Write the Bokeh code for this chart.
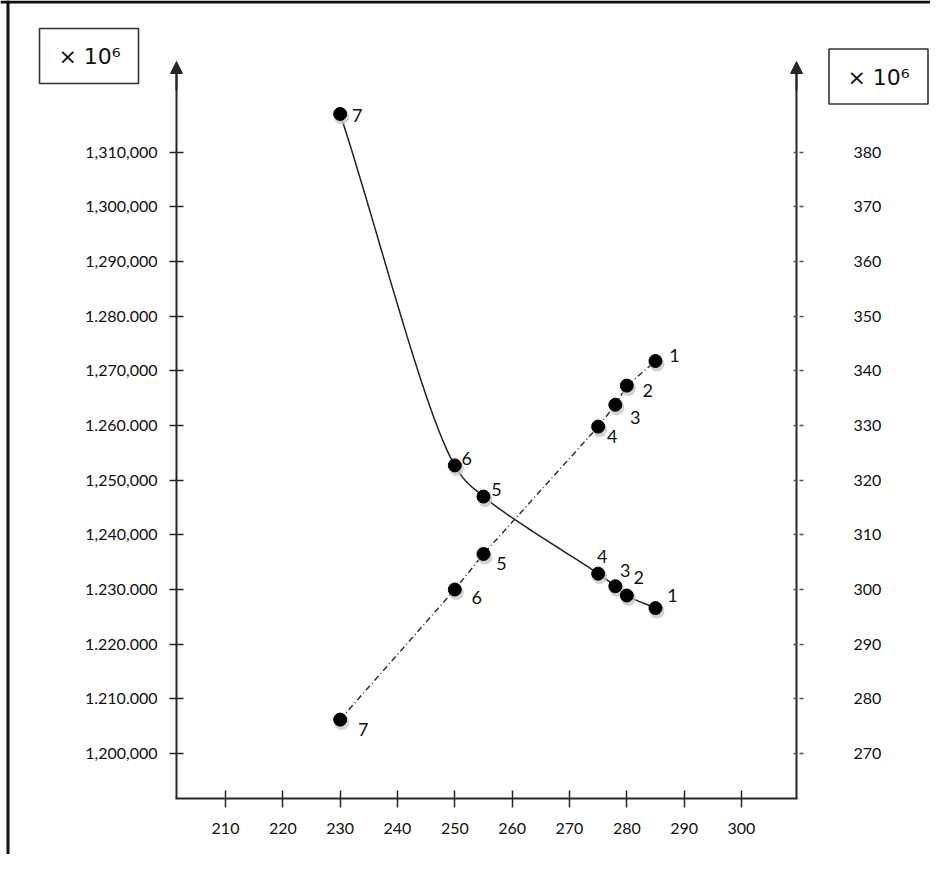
import numpy as np
from bokeh.plotting import figure
from bokeh.models import (Range1d, LinearAxis, FixedTicker, Arrow, NormalHead,
                          Span, ColumnDataSource)
from bokeh.core.properties import value
from bokeh.embed import file_html
from bokeh.resources import INLINE

# ---------------- data ----------------
point_ids = ["1", "2", "3", "4", "5", "6", "7"]
x_values = [285, 280, 278, 275, 255, 250, 230]
left_series = [1226600, 1228900, 1230600, 1232900, 1247000, 1252700, 1317000]
right_series = [341.8, 337.3, 333.8, 329.8, 306.5, 300.0, 276.2]

x_ticks = [210, 220, 230, 240, 250, 260, 270, 280, 290, 300]
left_ticks = [1200000, 1210000, 1220000, 1230000, 1240000, 1250000,
              1260000, 1270000, 1280000, 1290000, 1300000, 1310000]
left_tick_labels = ["1,200,000", "1.210.000", "1.220.000", "1.230.000",
                    "1,240,000", "1,250,000", "1.260.000", "1,270,000",
                    "1.280.000", "1,290,000", "1,300,000", "1,310,000"]
right_ticks = [270, 280, 290, 300, 310, 320, 330, 340, 350, 360, 370, 380]
right_tick_labels = [str(t) for t in right_ticks]
scale_label = "× 10⁶"

# label offsets (screen px) for point numbers
solid_dx = [17, 12, 10, 4, 13, 12, 17]
solid_dy = [-13, -18, -16, -17, -7, -7, 2]
dash_dx = [19, 21, 20, 14, 18, 22, 23]
dash_dy = [-6, 5, 13, 10, 10, 8, 10]

# ---------------- geometry ----------------
W, H = 930, 854
KX = 5.733        # px per x unit
KY = 0.005466     # px per left-axis unit


def x_at(px):  # canvas px -> data x
    return 210 + (px - 225) / KX


def y_at(py):  # canvas px -> left data y
    return 1255000 + (452.35 - py) / KY


def r_at(py):
    return (y_at(py) - 930000) / 1000.0


X0, X1 = x_at(0), x_at(W)
Y0, Y1 = y_at(H), y_at(0)
R0, R1 = r_at(H), r_at(0)


def catmull_rom(xs, ys, kx, ky, n=40, alpha=0.5):
    P = np.column_stack([np.asarray(xs, float) * kx, np.asarray(ys, float) * ky])
    P = np.vstack([2 * P[0] - P[1], P, 2 * P[-1] - P[-2]])
    out = []
    for i in range(1, len(P) - 2):
        p0, p1, p2, p3 = P[i - 1], P[i], P[i + 1], P[i + 2]
        t0 = 0.0
        t1 = t0 + np.linalg.norm(p1 - p0) ** alpha
        t2 = t1 + np.linalg.norm(p2 - p1) ** alpha
        t3 = t2 + np.linalg.norm(p3 - p2) ** alpha
        t = np.linspace(t1, t2, n)[:, None]
        a1 = (t1 - t) / (t1 - t0) * p0 + (t - t0) / (t1 - t0) * p1
        a2 = (t2 - t) / (t2 - t1) * p1 + (t - t1) / (t2 - t1) * p2
        a3 = (t3 - t) / (t3 - t2) * p2 + (t - t2) / (t3 - t2) * p3
        b1 = (t2 - t) / (t2 - t0) * a1 + (t - t0) / (t2 - t0) * a2
        b2 = (t3 - t) / (t3 - t1) * a2 + (t - t1) / (t3 - t1) * a3
        c = (t2 - t) / (t2 - t1) * b1 + (t - t1) / (t2 - t1) * b2
        out.append(c if i == len(P) - 3 else c[:-1])
    C = np.vstack(out)
    return C[:, 0] / kx, C[:, 1] / ky


p = figure(width=W, height=H, x_range=Range1d(X0, X1), y_range=Range1d(Y0, Y1),
           x_axis_type=None, y_axis_type=None, toolbar_location=None,
           output_backend="svg", min_border=0, outline_line_color=None,
           background_fill_color="white", border_fill_color="white")
p.extra_y_ranges = {"right": Range1d(R0, R1)}

INK = "#262626"
TXT = "#111111"
FONT = "Lato"

# outer border (top & left edges)
p.add_layout(Span(location=y_at(1.5), dimension="width", line_color="#111", line_width=3))
p.add_layout(Span(location=x_at(7.5), dimension="height", line_color="#111", line_width=3))

# axes
xl, xr, yb = x_at(176), x_at(796), y_at(798)

left_axis = LinearAxis(fixed_location=xl, bounds=(yb, y_at(68)),
                       ticker=FixedTicker(ticks=left_ticks),
                       major_label_overrides=dict(zip(left_ticks, left_tick_labels)))
right_axis = LinearAxis(y_range_name="right", fixed_location=xr, bounds=(r_at(798), r_at(68)),
                        ticker=FixedTicker(ticks=right_ticks),
                        major_label_overrides=dict(zip(right_ticks, right_tick_labels)))
bottom_axis = LinearAxis(fixed_location=yb, bounds=(x_at(175), x_at(797)),
                         ticker=FixedTicker(ticks=x_ticks))

for ax in (left_axis, right_axis, bottom_axis):
    ax.axis_line_color = INK
    ax.axis_line_width = 2
    ax.major_tick_line_color = INK
    ax.major_tick_line_width = 1.5
    ax.minor_tick_line_color = None
    ax.major_label_text_font = FONT
    ax.major_label_text_font_size = "16px"
    ax.major_label_text_color = TXT

left_axis.major_tick_in = 7
left_axis.major_tick_out = 7
left_axis.major_label_standoff = 12
right_axis.major_tick_in = 5
right_axis.major_tick_out = 7
right_axis.major_label_standoff = 50
right_axis.major_tick_line_color = "#555"
right_axis.major_tick_line_dash = "4 2"
bottom_axis.major_tick_in = 8
bottom_axis.major_tick_out = 9
bottom_axis.major_label_standoff = 15

p.add_layout(left_axis, "left")
p.add_layout(right_axis, "right")
p.add_layout(bottom_axis, "below")

# arrow heads on vertical axes
for xa in (xl, xr):
    p.add_layout(Arrow(end=NormalHead(size=12, line_color=INK, fill_color=INK),
                       x_start=xa, y_start=y_at(90), x_end=xa, y_end=y_at(61),
                       line_color=INK, line_width=2))

# scale boxes
p.rect(x=[x_at(88.5), x_at(878)], y=[y_at(55.5), y_at(76)], width=99, height=55,
       width_units="screen", height_units="screen", fill_color="white",
       line_color="#333", line_width=1.6)
p.text(x=[x_at(89), x_at(878)], y=[y_at(56), y_at(76.5)], text=[scale_label, scale_label],
       text_font=value("DejaVu Sans"), text_font_size=value("22px"), text_color=TXT,
       text_align="center", text_baseline="middle")

# series
order = np.argsort(x_values)
xs_sorted = np.array(x_values, float)[order]
ls_sorted = np.array(left_series, float)[order]
rs_sorted = np.array(right_series, float)[order]

cx, cy = catmull_rom(xs_sorted, ls_sorted, KX, KY)
p.line(cx, cy, line_color="#222", line_width=1.5)

p.line(xs_sorted, rs_sorted, y_range_name="right", line_color="#333",
       line_width=1.5, line_dash="6 3 1 3")

solid_src = ColumnDataSource(dict(x=x_values, y=left_series, t=point_ids,
                                  dx=solid_dx, dy=solid_dy,
                                  xs=[v + 1.5 / KX for v in x_values],
                                  ys=[v - 3 / KY for v in left_series]))
dash_src = ColumnDataSource(dict(x=x_values, y=right_series, t=point_ids,
                                 dx=dash_dx, dy=dash_dy,
                                 xs=[v + 1.5 / KX for v in x_values],
                                 ys=[v - 3 / KY / 1000.0 for v in right_series]))

p.scatter("xs", "ys", source=solid_src, size=15, fill_color="#c8c8c8",
          line_color=None, fill_alpha=0.8)
p.scatter("xs", "ys", source=dash_src, y_range_name="right", size=15,
          fill_color="#c8c8c8", line_color=None, fill_alpha=0.8)
p.scatter("x", "y", source=solid_src, size=13, fill_color="black", line_color="black")
p.scatter("x", "y", source=dash_src, y_range_name="right", size=13,
          fill_color="black", line_color="black")

p.text("x", "y", text="t", source=solid_src, x_offset="dx", y_offset="dy",
       text_font=value(FONT), text_font_size=value("18px"), text_color=TXT,
       text_align="center", text_baseline="middle")
p.text("x", "y", text="t", source=dash_src, y_range_name="right", x_offset="dx",
       y_offset="dy", text_font=value(FONT), text_font_size=value("18px"),
       text_color=TXT, text_align="center", text_baseline="middle")

open("out.html", "w").write(file_html(p, INLINE))
